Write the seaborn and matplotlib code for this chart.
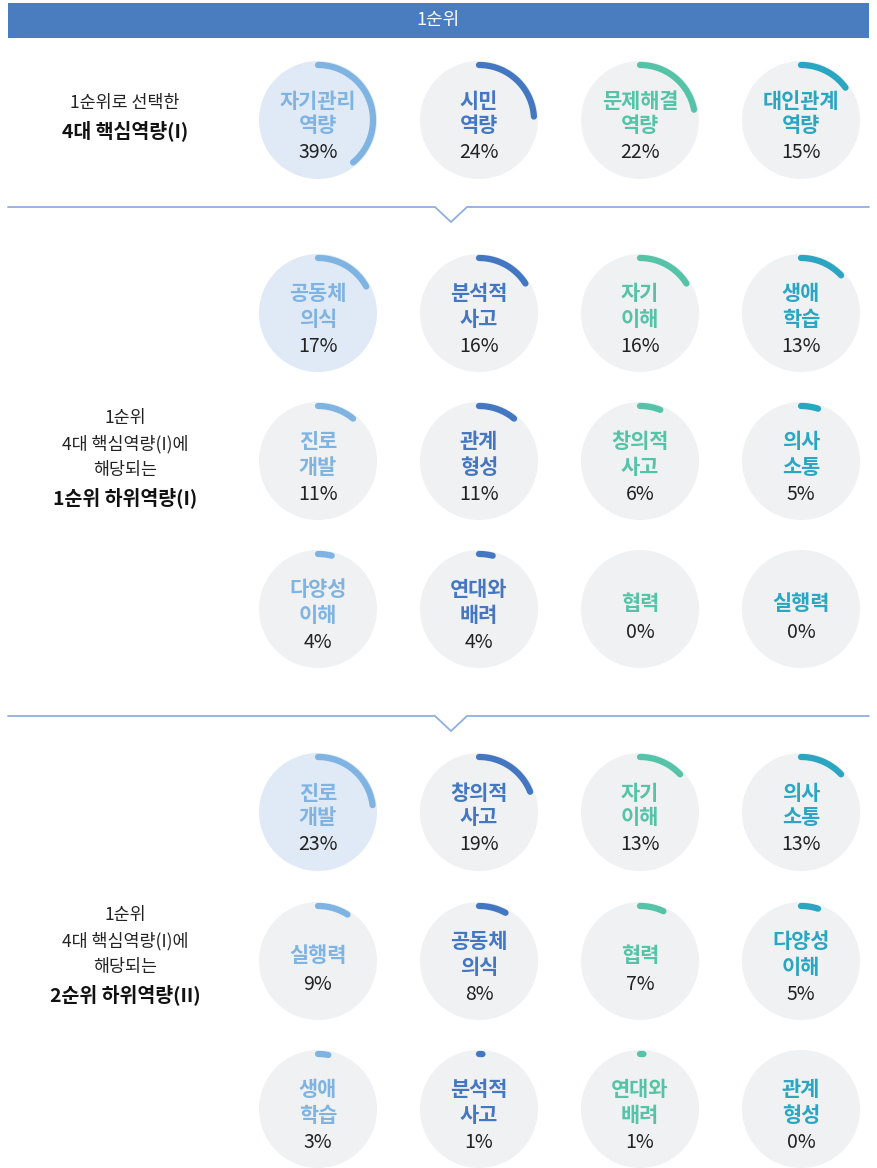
"""
1순위 핵심역량 / 하위역량 원형 게이지 차트
"""
import numpy as np
import matplotlib
matplotlib.use("Agg")
import matplotlib.pyplot as plt
import seaborn as sns
from matplotlib.patches import Circle, Rectangle

sns.set_theme(style="white")
plt.rcParams["font.family"] = ["Noto Sans CJK KR", "DejaVu Sans"]
plt.rcParams["axes.unicode_minus"] = False

# ---------------------------------------------------------------- 데이터
sec1_labels = ["자기관리\n역량", "시민\n역량", "문제해결\n역량", "대인관계\n역량"]
sec1_values = [39, 24, 22, 15]

sec2_labels = ["공동체\n의식", "분석적\n사고", "자기\n이해", "생애\n학습",
               "진로\n개발", "관계\n형성", "창의적\n사고", "의사\n소통",
               "다양성\n이해", "연대와\n배려", "협력", "실행력"]
sec2_values = [17, 16, 16, 13, 11, 11, 6, 5, 4, 4, 0, 0]

sec3_labels = ["진로\n개발", "창의적\n사고", "자기\n이해", "의사\n소통",
               "실행력", "공동체\n의식", "협력", "다양성\n이해",
               "생애\n학습", "분석적\n사고", "연대와\n배려", "관계\n형성"]
sec3_values = [23, 19, 13, 13, 9, 8, 7, 5, 3, 1, 1, 0]

header_text = "1순위"
left_texts = [
    ["1순위로 선택한", "4대 핵심역량(I)"],
    ["1순위", "4대 핵심역량(I)에", "해당되는", "1순위 하위역량(I)"],
    ["1순위", "4대 핵심역량(I)에", "해당되는", "2순위 하위역량(II)"],
]

# ---------------------------------------------------------------- 스타일
col_colors = ["#7fb3e2", "#4477c2", "#55c3a7", "#2aa6c2"]
bg_gray = "#f0f1f3"
bg_blue = "#dfeaf6"
line_blue = "#8fb0dc"
header_blue = "#4a7cc0"

col_x = [318, 479, 640, 801]
row_y = [[120], [313, 461, 609], [812, 961, 1109]]
R_CIRCLE = 59
R_ARC = 55

fig = plt.figure(figsize=(8.77, 11.68), dpi=100)
ax = fig.add_axes([0, 0, 1, 1])
ax.set_xlim(0, 877)
ax.set_ylim(1168, 0)
ax.set_aspect("equal")
ax.axis("off")

# 헤더 바
ax.add_patch(Rectangle((8, 3), 861, 35, color=header_blue, lw=0))
ax.text(438, 20, header_text, color="white", fontsize=13, ha="center", va="center")

# 구분선 (V 표시)
for ys in [207, 716]:
    ax.plot([8, 435, 451, 467, 869], [ys, ys, ys + 15, ys, ys],
            color=line_blue, lw=1.3, solid_joinstyle="miter")


def draw_gauge(cx, cy, label, value, color, first):
    ax.add_patch(Circle((cx, cy), R_CIRCLE, color=bg_blue if first else bg_gray, lw=0, zorder=1))
    if value > 0:
        theta = np.linspace(0, 2 * np.pi * value / 100, 100)
        ax_x = cx + R_ARC * np.sin(theta)
        ax_y = cy - R_ARC * np.cos(theta)
        sns.lineplot(x=ax_x, y=ax_y, sort=False, estimator=None, ax=ax,
                     color=color, lw=4.5, solid_capstyle="round", zorder=3)
    lines = label.split("\n")
    kw = dict(color=color, fontsize=15, fontweight="heavy", ha="center", va="center", zorder=4)
    pkw = dict(color="#222222", fontsize=14, ha="center", va="center", zorder=4)
    if len(lines) == 2:
        ax.text(cx, cy - 19, lines[0], **kw)
        ax.text(cx, cy + 6, lines[1], **kw)
        ax.text(cx, cy + 33, f"{value}%", **pkw)
    else:
        ax.text(cx, cy - 6, lines[0], **kw)
        ax.text(cx, cy + 23, f"{value}%", **pkw)


sections = [(sec1_labels, sec1_values), (sec2_labels, sec2_values), (sec3_labels, sec3_values)]
for s, (labels, values) in enumerate(sections):
    for i, (lab, val) in enumerate(zip(labels, values)):
        r, c = divmod(i, 4)
        draw_gauge(col_x[c], row_y[s][r], lab, val, col_colors[c], i == 0)

# 왼쪽 설명 문구
ax.text(125, 103, left_texts[0][0], fontsize=12.5, color="#222222", ha="center", va="center")
ax.text(125, 131, left_texts[0][1], fontsize=14, fontweight="bold", color="#111111",
        ha="center", va="center")
for s, y0 in [(1, 418), (2, 915)]:
    for k, t in enumerate(left_texts[s]):
        if k < 3:
            ax.text(125, y0 + 26 * k, t, fontsize=12.5, color="#222222", ha="center", va="center")
        else:
            ax.text(125, y0 + 80, t, fontsize=14, fontweight="bold", color="#111111",
                    ha="center", va="center")

fig.savefig("out.png", dpi=100, facecolor="white")
